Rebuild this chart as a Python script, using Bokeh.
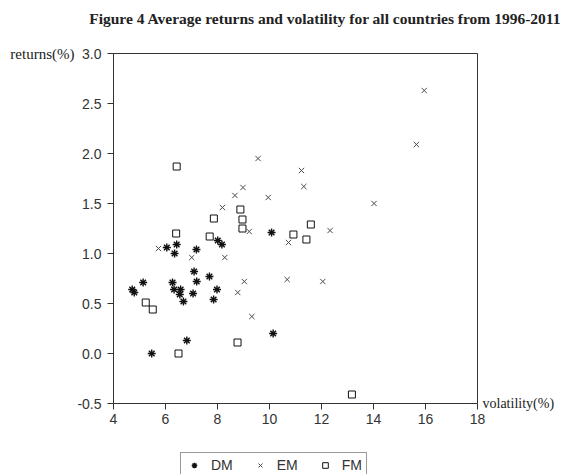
from bokeh.plotting import figure
from bokeh.layouts import column
from bokeh.models import (Range1d, Legend, LegendItem, FixedTicker, NumeralTickFormatter,
                          LinearAxis, CustomJSTickFormatter)
from bokeh.embed import file_html
from bokeh.resources import INLINE

# ---- data (volatility %, returns %) ----
dm_vol = [4.72, 4.80, 5.14, 5.47, 6.05, 6.43, 6.35, 6.27, 6.33, 6.58, 6.55, 6.69,
          6.82, 7.06, 7.10, 7.19, 7.20, 7.69, 7.85, 7.98, 8.01, 8.17, 10.08, 10.14]
dm_ret = [0.64, 0.61, 0.71, 0.00, 1.06, 1.09, 1.00, 0.71, 0.64, 0.64, 0.59, 0.52,
          0.13, 0.60, 0.82, 1.04, 0.72, 0.77, 0.54, 0.64, 1.13, 1.09, 1.21, 0.20]

em_vol = [5.73, 7.01, 8.19, 8.28, 8.67, 8.78, 8.98, 9.03, 9.22, 9.32, 9.56, 9.95,
          10.68, 10.73, 11.23, 11.32, 12.05, 12.33, 14.02, 15.65, 15.95]
em_ret = [1.05, 0.96, 1.46, 0.96, 1.58, 0.61, 1.66, 0.72, 1.22, 0.37, 1.95, 1.56,
          0.74, 1.11, 1.83, 1.67, 0.72, 1.23, 1.50, 2.09, 2.63]

fm_vol = [5.24, 5.51, 6.41, 6.43, 6.50, 7.70, 7.86, 8.77, 8.88, 8.96, 8.96,
          10.92, 11.42, 11.59, 13.17]
fm_ret = [0.51, 0.44, 1.20, 1.87, 0.00, 1.17, 1.35, 0.11, 1.44, 1.34, 1.25,
          1.19, 1.14, 1.29, -0.41]

x_ticks = [4, 6, 8, 10, 12, 14, 16, 18]
y_ticks = [-0.5, 0.0, 0.5, 1.0, 1.5, 2.0, 2.5, 3.0]

title_text = "Figure 4 Average returns and volatility for all countries from 1996-2011"
y_label = "returns(%)"
x_label = "volatility(%)"
series_names = ["DM", "EM", "FM"]

TITLE_CENTER_X = 12.15   # horizontal centre of the title line, in x-axis units

DM_STYLE = dict(marker="asterisk", size=8, line_width=1.4, line_color="#111111")
EM_STYLE = dict(marker="x", size=7.5, line_width=1, line_color="#4a4a4a")
FM_STYLE = dict(marker="square", size=7, line_width=1, line_color="#111111", fill_color=None)

p = figure(width=565, height=448, output_backend="svg", toolbar_location=None,
           x_range=Range1d(4, 18), y_range=Range1d(-0.5, 3.0),
           min_border_left=113, min_border_right=88, min_border_top=53, min_border_bottom=45)
p.grid.visible = False
p.outline_line_color = "#333333"
p.outline_line_width = 1
p.background_fill_color = "white"
p.border_fill_color = "white"

for ax in (p.xaxis[0], p.yaxis[0]):
    ax.axis_line_color = "#333333"
    ax.major_tick_line_color = "#333333"
    ax.minor_tick_line_color = None
    ax.major_tick_in = 0
    ax.major_tick_out = 6
    ax.major_label_text_font = "Liberation Sans"
    ax.major_label_text_font_size = "14px"
    ax.major_label_text_color = "#333333"

p.xaxis.ticker = FixedTicker(ticks=x_ticks)
p.yaxis.ticker = FixedTicker(ticks=y_ticks)
p.yaxis.formatter = NumeralTickFormatter(format="0.0")
p.yaxis.major_label_standoff = 6
p.xaxis.major_label_standoff = 4


def caption_axis(tick, text, standoff, size, style="normal"):
    return LinearAxis(ticker=FixedTicker(ticks=[tick]),
                      formatter=CustomJSTickFormatter(code="return %r" % text),
                      axis_line_color=None, major_tick_line_color=None,
                      minor_tick_line_color=None, major_tick_out=0, major_tick_in=0,
                      major_label_standoff=standoff,
                      major_label_text_font="Liberation Serif",
                      major_label_text_font_size=size,
                      major_label_text_font_style=style,
                      major_label_text_color="#222222")


# "returns(%)" left of the 3.0 tick label
p.add_layout(caption_axis(y_ticks[-1], y_label, 0, "15px"), "left")
# "volatility(%)" right of the x-axis end
p.add_layout(caption_axis(y_ticks[0], x_label, 5, "14px"), "right")
# chart title line above the frame
p.add_layout(caption_axis(TITLE_CENTER_X, title_text, 27, "15.5px", "bold"), "above")

p.scatter(dm_vol, dm_ret, **DM_STYLE)
p.scatter(em_vol, em_ret, **EM_STYLE)
p.scatter(fm_vol, fm_ret, **FM_STYLE)

# ---- legend strip below the chart ----
q = figure(width=565, height=26, output_backend="svg", toolbar_location=None,
           x_range=Range1d(100, 101), y_range=Range1d(100, 101),
           x_axis_type=None, y_axis_type=None,
           min_border_left=0, min_border_right=0, min_border_top=0, min_border_bottom=0)
q.grid.visible = False
q.outline_line_color = None
q.background_fill_color = "white"
q.border_fill_color = "white"
l_dm = q.scatter(dm_vol, dm_ret, visible=False, **DM_STYLE)
l_em = q.scatter(em_vol, em_ret, visible=False, **EM_STYLE)
l_fm = q.scatter(fm_vol, fm_ret, visible=False, **FM_STYLE)

legend = Legend(items=[LegendItem(label=series_names[0], renderers=[l_dm]),
                       LegendItem(label=series_names[1], renderers=[l_em]),
                       LegendItem(label=series_names[2], renderers=[l_fm])],
                orientation="horizontal", location=(67, -4),
                label_text_font="Liberation Sans", label_text_font_size="14px",
                label_text_color="#333333",
                glyph_width=18, glyph_height=14, label_height=14, label_standoff=8,
                spacing=18, padding=4, margin=0,
                inactive_fill_alpha=0.0,
                border_line_color="#333333", border_line_width=1,
                background_fill_alpha=1.0)
q.add_layout(legend, "center")

open("out.html", "w").write(file_html(column(p, q, spacing=0), INLINE))
